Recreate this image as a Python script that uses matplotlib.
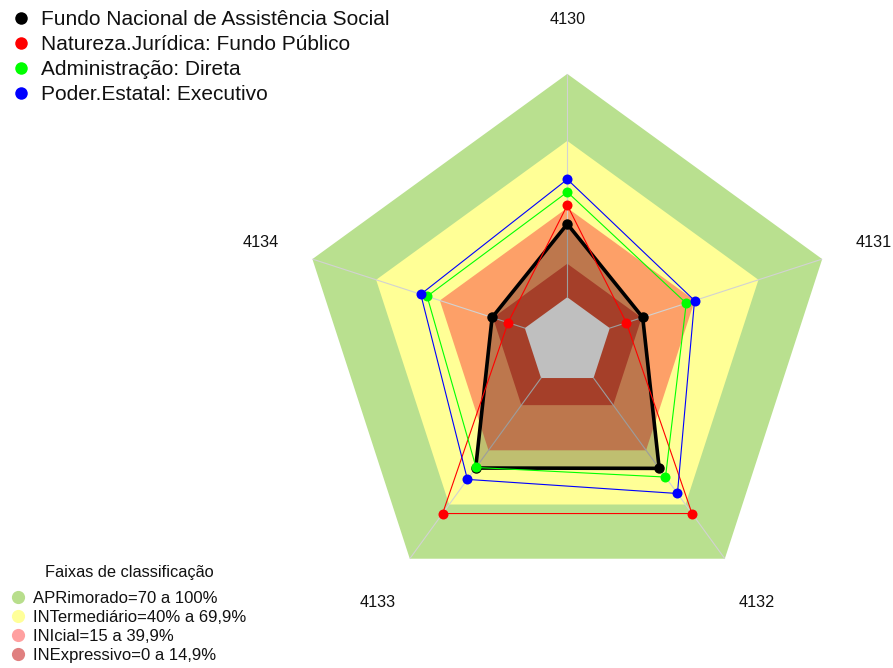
import numpy as np
import matplotlib
matplotlib.use("Agg")
import matplotlib.pyplot as plt

plt.rcParams['font.family'] = ['Liberation Sans', 'DejaVu Sans']

categories = ["4130", "4131", "4132", "4133", "4134"]
series_names = ["Fundo Nacional de Assistência Social",
                "Natureza.Jurídica: Fundo Público",
                "Administração: Direta",
                "Poder.Estatal: Executivo"]
series_colors = ["#000000", "#FF0000", "#00FF00", "#0000FF"]
fundo_nacional = [32.8, 15.5, 50.0, 49.8, 15.4]
natureza_juridica = [41.2, 7.8, 75.0, 75.0, 7.9]
administracao = [47.1, 36.0, 54.8, 49.5, 46.0]
poder_estatal = [52.8, 39.9, 63.9, 56.1, 49.0]
series_values = [fundo_nacional, natureza_juridica, administracao, poder_estatal]

band_labels = ["APRimorado=70 a 100%", "INTermediário=40% a 69,9%",
               "INIcial=15 a 39,9%", "INExpressivo=0 a 14,9%"]
band_upper = [100, 70, 40, 15]
band_colors = ["#B9E08F", "#FFFF96", "#FDA068", "#DD5538"]
band_legend_colors = ["#B8DE8C", "#FFFF99", "#FFA0A0", "#E08080"]
legend_title = "Faixas de classificação"

rmin, rmax = -20, 100

W, H = 893, 668
fig = plt.figure(figsize=(W / 100, H / 100), dpi=100)
cx, cy, R = 567.3, 341.9, 268.0
ax = fig.add_axes([(cx - R) / W, (H - cy - R) / H, 2 * R / W, 2 * R / H],
                  projection='polar')
ax.set_theta_offset(np.pi / 2)
ax.set_theta_direction(-1)
ax.set_rlim(rmin, rmax)
ax.grid(False)
ax.set_xticks([])
ax.set_yticks([])
ax.spines['polar'].set_visible(False)
ax.patch.set_alpha(0)

n = len(categories)
theta = np.arange(n) * 2 * np.pi / n
theta_c = np.append(theta, theta[0])

# bands
for up, col in zip(band_upper, band_colors):
    ax.fill(theta_c, [up] * (n + 1), color=col, lw=0, zorder=1)
ax.fill(theta_c, [0] * (n + 1), color="white", lw=0, zorder=1)

# spokes
for t in theta:
    ax.plot([t, t], [0, rmax], color="#D2D2D2", lw=0.8, zorder=2)

# series
for i, (vals, col) in enumerate(zip(series_values, series_colors)):
    v = np.append(vals, vals[0])
    if i == 0:
        ax.fill(theta_c, v, color="black", alpha=0.25, lw=0, zorder=3)
        ax.plot(theta_c, v, color=col, lw=2.6, zorder=4)
        ax.plot(theta, vals, 'o', color=col, ms=6.5, zorder=4)
    else:
        ax.plot(theta_c, v, color=col, lw=0.8, zorder=4 + i)
        ax.plot(theta, vals, 'o', color=col, ms=7.2, mec='none', zorder=4 + i)

# category labels
for t, lab in zip(theta, categories):
    ax.text(t, 124.2, lab, ha='center', va='center', fontsize=11.7, color='#111111')

# legends (pixel overlay)
lax = fig.add_axes([0, 0, 1, 1])
lax.set_xlim(0, W)
lax.set_ylim(H, 0)
lax.axis('off')
for i, (name, col) in enumerate(zip(series_names, series_colors)):
    yb = 25 + 25 * i
    lax.plot(21, yb - 7.5, 'o', color=col, ms=9, mec='none')
    lax.text(41, yb, name, fontsize=15, va='baseline', ha='left', color='#111111')

lax.text(129, 576.7, legend_title, fontsize=11.8, va='baseline', ha='center', color='#111111')
for i, (lab, col) in enumerate(zip(band_labels, band_legend_colors)):
    yb = 602.7 + 19 * i
    lax.plot(18, yb - 6, 'o', color=col, ms=9.5, mec='none')
    lax.text(33, yb, lab, fontsize=12, va='baseline', ha='left', color='#111111')

fig.savefig("out.png", dpi=100)
